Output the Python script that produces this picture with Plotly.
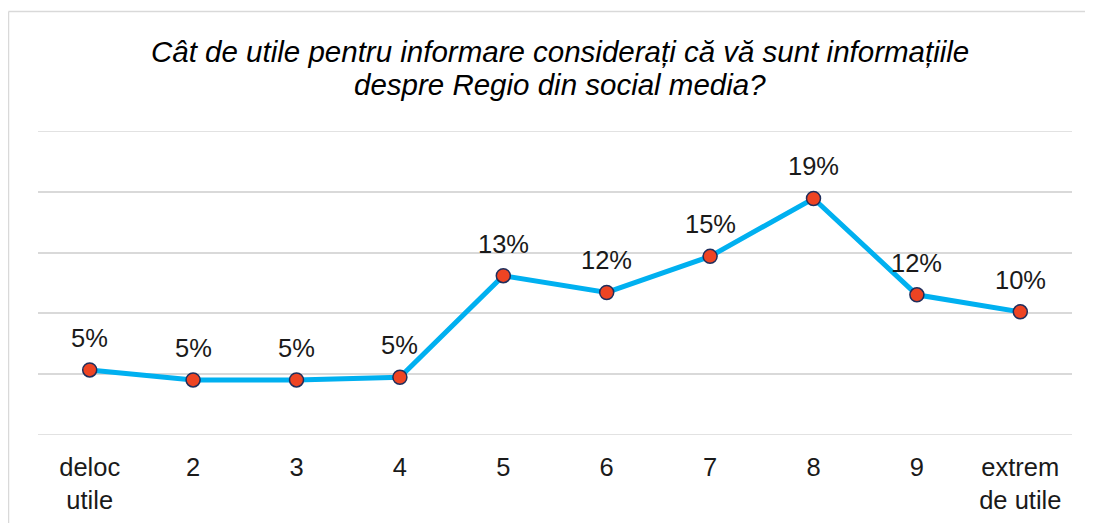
import plotly.graph_objects as go

categories = ["deloc<br>utile", "2", "3", "4", "5", "6", "7", "8", "9", "extrem<br>de utile"]
values = [5.35, 4.53, 4.53, 4.75, 13.1, 11.72, 14.69, 19.45, 11.53, 10.13]
labels = ["5%", "5%", "5%", "5%", "13%", "12%", "15%", "19%", "12%", "10%"]
title_lines = ["Cât de utile pentru informare considerați că vă sunt informațiile",
               "despre Regio din social media?"]
grid_vals = [0, 5, 10, 15, 20, 25]

# page body has an 8px margin: figure is sized to fill the remaining window
W, H = 1085, 515
ml, mr, mt, mb = 30, 21, 123, 88
pw, ph = W - ml - mr, H - mt - mb
FONT = "Liberation Sans, Arial"

fig = go.Figure()
fig.add_trace(go.Scatter(
    x=list(range(len(categories))), y=values, mode="lines+markers",
    line=dict(color="#00B0F0", width=5),
    marker=dict(size=14, color="#EE4423", line=dict(color="#1F2E5C", width=1.5)),
    hoverinfo="skip", showlegend=False, cliponaxis=False,
))

def py(pix_from_top):
    return (H - mb - pix_from_top) / ph

annotations = []
for i, (v, t) in enumerate(zip(values, labels)):
    annotations.append(dict(x=i, y=v, text=t, showarrow=False, yshift=32,
                            font=dict(family=FONT, size=25.5, color="#1a1a1a")))
for k, line in enumerate(title_lines):
    annotations.append(dict(xref="paper", yref="paper", x=(552 - ml) / pw, y=py(44 + 32 * k),
                            xanchor="center", yanchor="middle", showarrow=False,
                            text="<i>" + line + "</i>",
                            font=dict(family=FONT, size=29.5, color="#000000")))

shapes = [
    dict(type="line", xref="paper", yref="paper",
         x0=(0.5 - ml) / pw, x1=(W + 5 - ml) / pw, y0=py(3.5), y1=py(3.5),
         line=dict(color="#D9D9D9", width=1.5)),
    dict(type="line", xref="paper", yref="paper",
         x0=(0.5 - ml) / pw, x1=(0.5 - ml) / pw, y0=py(3.5), y1=py(H + 10),
         line=dict(color="#D9D9D9", width=1.5)),
]
for g in (grid_vals[0], grid_vals[-1]):
    shapes.append(dict(type="line", xref="paper", yref="y", x0=0, x1=1, y0=g, y1=g,
                       layer="below", line=dict(color="#D9D9D9", width=1.5)))

fig.update_layout(
    width=W, height=H,
    margin=dict(l=ml, r=mr, t=mt, b=mb, autoexpand=False),
    paper_bgcolor="white", plot_bgcolor="white",
    xaxis=dict(tickmode="array", tickvals=list(range(len(categories))), ticktext=categories,
               range=[-0.5, len(categories) - 0.5], showgrid=False, zeroline=False,
               showline=False, ticks="", ticklabelstandoff=14, automargin=False,
               tickfont=dict(family=FONT, size=25.5, color="#1a1a1a")),
    yaxis=dict(range=[grid_vals[0], grid_vals[-1]], tickmode="array", tickvals=grid_vals,
               showgrid=True, gridcolor="#D9D9D9", gridwidth=1.5, automargin=False,
               showticklabels=False, zeroline=False, showline=False),
    annotations=annotations,
    shapes=shapes,
)
fig.write_html("out.html")
